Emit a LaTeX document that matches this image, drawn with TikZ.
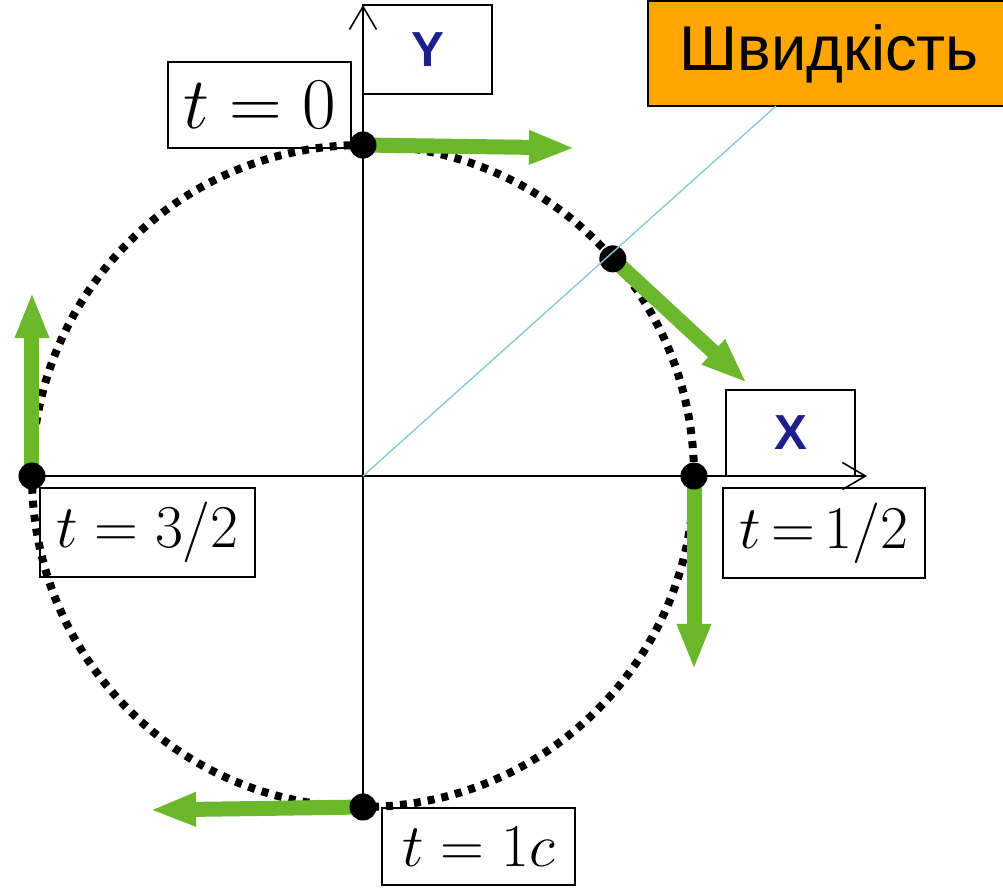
\documentclass[tikz,border=0pt]{standalone}
\usepackage{fontspec}
\newfontfamily\labelfont{Liberation Sans}
\usetikzlibrary{arrows.meta}
\definecolor{speedgreen}{RGB}{108,184,44}
\definecolor{speedorange}{RGB}{255,166,0}
\definecolor{axisnavy}{RGB}{30,30,140}
\definecolor{leadblue}{RGB}{140,200,215}
\begin{document}
\begin{tikzpicture}[x=0.01cm,y=0.01cm,
		timebox/.style={draw,line width=0.6pt,inner sep=0pt,font=\fontsize{19}{22}\selectfont},
		axisbox/.style={draw,line width=0.6pt,inner sep=0pt,minimum width=1.29cm,text=axisnavy,font=\labelfont\bfseries\fontsize{14}{16}\selectfont},
		velocity/.style={speedgreen,line width=0.15cm,-{Triangle[length=0.46cm,width=0.31cm]}},
		point/.style={circle,fill=black,inner sep=0pt,minimum size=0.27cm},
		axis/.style={line width=0.45pt,-{Straight Barb[length=0.23cm,width=0.27cm]}}]
	\useasboundingbox (-363,-411) rectangle (640,476);
	\coordinate (O) at (0,0);
	\coordinate (pt) at (90:331);
	\coordinate (pd) at (41:331);
	\coordinate (pr) at (0:331);
	\coordinate (pb) at (270:331);
	\coordinate (pl) at (180:331);
	\coordinate (ytip) at (0,471);
	\coordinate (xtip) at (504,0);
	\draw[line width=0.08cm,dash pattern=on 0.07cm off 0.07cm] (O) circle[radius=331];
	\draw[axis] (pb) -- (ytip);
	\draw[axis] (pl) -- (xtip);
	\coordinate (vt) at (212,328);
	\coordinate (vd) at (384,93);
	\coordinate (vr) at (331,-194);
	\coordinate (vb) at (-213,-334);
	\coordinate (vl) at (-331,184);
	\draw[velocity] (pt) -- (vt);
	\draw[velocity] (pd) -- (vd);
	\draw[velocity] (pr) -- (vr);
	\draw[velocity] (pb) -- (vb);
	\draw[velocity] (pl) -- (vl);
	\node[point] (dt) at (pt) {};
	\node[point] (dd) at (pd) {};
	\node[point] (dr) at (pr) {};
	\node[point] (db) at (pb) {};
	\node[point] (dl) at (pl) {};
	\node[axisbox,minimum height=0.89cm] (ylab) at (64.5,426.5) {Y};
	\node[axisbox,minimum height=0.86cm] (xlab) at (427.5,43) {X};
	\node[timebox,minimum width=1.83cm,minimum height=0.86cm,font=\fontsize{21}{24}\selectfont] (tzero) at (-103.5,371) {$t = 0$};
	\node[timebox,minimum width=2.15cm,minimum height=0.89cm] (tthree) at (-215.5,-56.5) {$t = 3/2$};
	\node[timebox,minimum width=2.02cm,minimum height=0.9cm] (thalf) at (461,-57) {$\thickmuskip=3mu t = 1/2$};
	\node[timebox,minimum width=1.93cm,minimum height=0.77cm] (tone) at (115.5,-370.5) {$t = 1c$};
	\node[draw,line width=0.6pt,fill=speedorange,inner sep=0pt,minimum width=3.62cm,minimum height=1.05cm,font=\labelfont\fontsize{18}{20}\selectfont] (speed) at (466,422.5) {Швидкість};
	\coordinate (lead) at (413,370);
	\draw[leadblue,line width=0.4pt] (O) -- (lead);
\end{tikzpicture}
\end{document}
